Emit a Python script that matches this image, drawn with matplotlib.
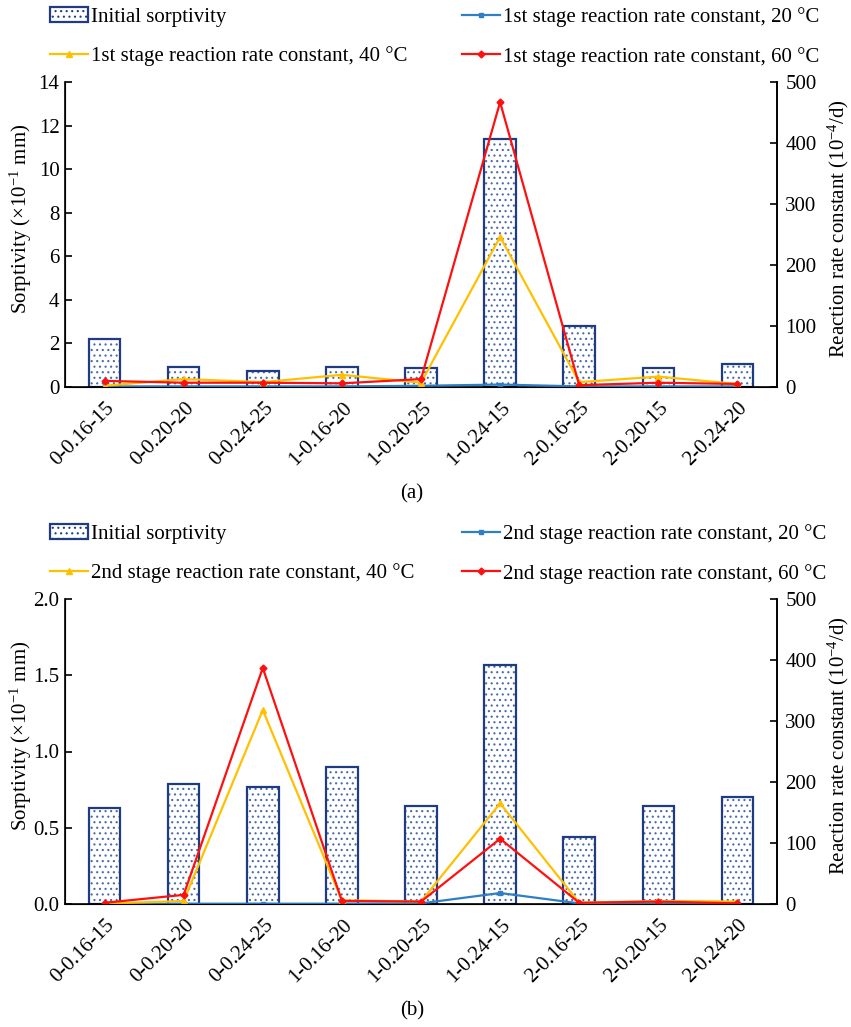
import numpy as np
import matplotlib
matplotlib.use("Agg")
import matplotlib.pyplot as plt
import matplotlib.transforms as mtransforms

plt.rcParams['font.family'] = ['Liberation Serif', 'DejaVu Serif']
plt.rcParams['font.size'] = 15
plt.rcParams['mathtext.fontset'] = 'custom'
plt.rcParams['mathtext.rm'] = 'Liberation Serif'
plt.rcParams['mathtext.it'] = 'Liberation Serif:italic'
plt.rcParams['hatch.linewidth'] = 0.8

# mix codes on the x axis
mixes = ['0-0.16-15', '0-0.20-20', '0-0.24-25', '1-0.16-20', '1-0.20-25',
         '1-0.24-15', '2-0.16-25', '2-0.20-15', '2-0.24-20']

# (a) initial sorptivity and 1st stage reaction rate constants
sorp_a = [2.2, 0.92, 0.73, 0.92, 0.87, 11.4, 2.8, 0.87, 1.05]
k20_a = [1, 1, 1, 1, 2, 4, 1, 1, 1]
k40_a = [2, 13, 8, 20, 7, 246, 8, 17, 5]
k60_a = [10, 7, 7, 6, 13, 467, 3, 7, 5]

# (b) initial sorptivity and 2nd stage reaction rate constants
sorp_b = [0.63, 0.79, 0.77, 0.90, 0.64, 1.57, 0.44, 0.64, 0.70]
k20_b = [0.5, 0.5, 0.5, 0.5, 1, 18, 1, 1, 1]
k40_b = [0.5, 5, 318, 6, 4, 165, 2, 5, 4]
k60_b = [2, 15, 387, 5, 4, 107, 2, 4, 1]

W, H = 851, 1027
NAVY = '#1f3c80'
DOTS = '#4a6aa8'
BLUE = '#2e7fc4'
YELLOW = '#ffc000'
RED = '#ff1010'


def draw_panel(fig, top_px, sorp, k20, k40, k60, stage, ymax, ystep, yfmt, letter):
    ax = fig.add_axes([65 / W, 1 - (top_px + 305) / H, 712 / W, 305 / H])
    x = np.arange(len(mixes))
    # dotted fill, then the navy outline on top
    ax.bar(x, sorp, width=0.4, facecolor='white', edgecolor=DOTS,
           linewidth=0, hatch='...')
    ax.bar(x, sorp, width=0.4, fill=False, edgecolor=NAVY, linewidth=1.6)
    ax.set_xlim(-0.5, len(mixes) - 0.5)
    ax.set_ylim(0, ymax)
    ax.set_yticks(np.arange(0, ymax + ystep / 2, ystep))
    ax.yaxis.set_major_formatter(plt.FormatStrFormatter(yfmt))
    ax.set_ylabel('Sorptivity (×10$^{-1}$ mm)')
    ax.yaxis.set_label_coords(-0.044, 0.55)
    ax.tick_params(axis='y', direction='in', length=5, width=1.2, pad=4)

    # rotated category labels under the axis
    ax.set_xticks(x)
    ax.set_xticklabels([])
    ax.tick_params(axis='x', length=0)
    trans = mtransforms.blended_transform_factory(ax.transData, ax.transAxes)
    trans = trans + mtransforms.ScaledTranslation(0.075, -0.18, fig.dpi_scale_trans)
    for xi, name in zip(x, mixes):
        ax.text(xi, 0, name, transform=trans, rotation=45, ha='right',
                va='center', rotation_mode='anchor')

    ax.spines['top'].set_visible(False)
    for s in ['left', 'bottom', 'right']:
        ax.spines[s].set_linewidth(1.2)

    ax2 = ax.twinx()
    l20, = ax2.plot(x, k20, '-s', color=BLUE, lw=1.6, ms=3.5,
                    label=f'{stage} stage reaction rate constant, 20 °C')
    l40, = ax2.plot(x, k40, '-^', color=YELLOW, lw=1.6, ms=4.5,
                    label=f'{stage} stage reaction rate constant, 40 °C')
    l60, = ax2.plot(x, k60, '-D', color=RED, lw=1.6, ms=3.5,
                    label=f'{stage} stage reaction rate constant, 60 °C')
    ax2.set_ylim(0, 500)
    ax2.set_yticks(np.arange(0, 501, 100))
    ax2.set_ylabel('Reaction rate constant (10$^{-4}$/d)')
    ax2.yaxis.set_label_coords(1.069, 0.52)
    ax2.tick_params(axis='y', direction='in', length=5, width=1.2, pad=6)
    ax2.spines['top'].set_visible(False)
    ax2.spines['right'].set_linewidth(1.2)

    # legend: two fixed columns
    hatch_proxy = plt.Rectangle((0, 0), 1, 1, facecolor='white', edgecolor=NAVY,
                                linewidth=1.6, hatch='...')
    cols = [(50, [hatch_proxy, l40], ['Initial sorptivity', l40.get_label()]),
            (462, [l20, l60], [l20.get_label(), l60.get_label()])]
    for xpx, hs, ls in cols:
        fig.legend(hs, ls, loc='upper left',
                   bbox_to_anchor=(xpx / W, 1 - (top_px - 75) / H),
                   frameon=False, borderpad=0, borderaxespad=0,
                   handlelength=1.8, handletextpad=0.15,
                   labelspacing=0.95, fontsize=15)
    fig.text(412 / W, 1 - (top_px + 412) / H, letter, ha='center', va='center')
    return ax, ax2


fig = plt.figure(figsize=(W / 100, H / 100), dpi=100)
draw_panel(fig, 82, sorp_a, k20_a, k40_a, k60_a, '1st', 14, 2, '%d', '(a)')
draw_panel(fig, 599, sorp_b, k20_b, k40_b, k60_b, '2nd', 2.0, 0.5, '%.1f', '(b)')
fig.savefig('out.png', dpi=100)
